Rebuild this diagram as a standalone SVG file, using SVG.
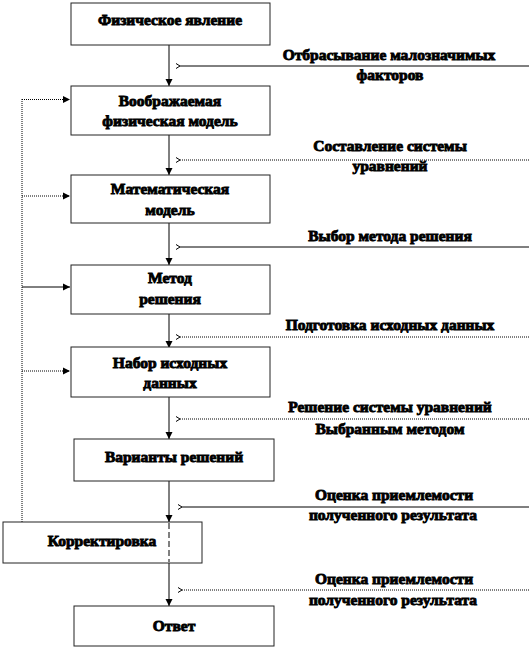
<svg xmlns="http://www.w3.org/2000/svg" width="529" height="651" viewBox="0 0 529 651">
<defs>
<style>
.box{fill:#fff;stroke:#222;stroke-width:1}
.t{font-family:"Liberation Serif","Times New Roman",serif;font-weight:bold;font-size:15.5px;fill:#000;stroke:#000;stroke-width:0.9;text-anchor:middle}
.ln{stroke:#000;stroke-width:1;fill:none}
.dot{stroke:#000;stroke-width:1;fill:none;stroke-dasharray:1 1}
.dash{stroke:#000;stroke-width:1;fill:none;stroke-dasharray:6 3}
</style>
<marker id="ah" markerWidth="8" markerHeight="8" refX="7" refY="4" orient="auto" markerUnits="userSpaceOnUse">
<path d="M0,0.5 L7,4 L0,7.5 Z" fill="#000"/>
</marker>
<marker id="oh" markerWidth="8" markerHeight="8" refX="1" refY="4" orient="auto" markerUnits="userSpaceOnUse">
<path d="M5,1.5 L1,4 L5,6.5" fill="none" stroke="#000" stroke-width="1"/>
</marker>
</defs>
<rect width="529" height="651" fill="#fff"/>
<g id="connectors">
<line class="ln" x1="169" y1="45" x2="169" y2="86" marker-end="url(#ah)"/>
<line class="ln" x1="169" y1="135" x2="169" y2="175" marker-end="url(#ah)"/>
<line class="ln" x1="169" y1="223" x2="169" y2="265" marker-end="url(#ah)"/>
<line class="ln" x1="169" y1="314" x2="169" y2="348" marker-end="url(#ah)"/>
<line class="ln" x1="169" y1="397" x2="169" y2="439" marker-end="url(#ah)"/>
<line class="ln" x1="169" y1="481" x2="169" y2="522" marker-end="url(#ah)"/>
<line class="ln" x1="169" y1="563" x2="169" y2="606" marker-end="url(#ah)"/>
<line class="ln" x1="529" y1="66" x2="180" y2="66" marker-end="url(#oh)"/>
<line class="dot" x1="529" y1="160" x2="180" y2="160" marker-end="url(#oh)"/>
<line class="ln" x1="529" y1="247" x2="180" y2="247" marker-end="url(#oh)"/>
<line class="dot" x1="529" y1="337" x2="180" y2="337" marker-end="url(#oh)"/>
<line class="dot" x1="529" y1="419" x2="180" y2="419" marker-end="url(#oh)"/>
<line class="ln" x1="529" y1="507" x2="182" y2="507" marker-end="url(#oh)"/>
<line class="dot" x1="529" y1="590" x2="182" y2="590" marker-end="url(#oh)"/>
<line class="dot" x1="22" y1="522" x2="22" y2="99"/>
<line class="dot" x1="22" y1="99.5" x2="70" y2="99.5" marker-end="url(#ah)"/>
<line class="dot" x1="22" y1="196" x2="70" y2="196" marker-end="url(#ah)"/>
<line class="ln" x1="22" y1="287" x2="70" y2="287" marker-end="url(#ah)"/>
<line class="dot" x1="22" y1="371" x2="70" y2="371" marker-end="url(#ah)"/>
</g>
<g id="n1"><rect class="box" x="71" y="3" width="199" height="42"/><text class="t" x="170" y="25">Физическое явление</text></g>
<g id="n2"><rect class="box" x="71" y="86" width="199" height="49"/><text class="t" x="170" y="106">Воображаемая</text><text class="t" x="170" y="126">физическая модель</text></g>
<g id="n3"><rect class="box" x="71" y="175" width="199" height="48"/><text class="t" x="170" y="194">Математическая</text><text class="t" x="170" y="215">модель</text></g>
<g id="n4"><rect class="box" x="71" y="265" width="199" height="49"/><text class="t" x="170" y="283">Метод</text><text class="t" x="170" y="304">решения</text></g>
<g id="n5"><rect class="box" x="71" y="347" width="199" height="50"/><text class="t" x="170" y="368">Набор исходных</text><text class="t" x="170" y="388">данных</text></g>
<g id="n6"><rect class="box" x="74" y="439" width="200" height="42"/><text class="t" x="174" y="462">Варианты решений</text></g>
<g id="n7"><rect class="box" x="3" y="522" width="199" height="41"/><text class="t" x="102" y="546">Корректировка</text><line class="dash" x1="169" y1="523" x2="169" y2="562"/></g>
<g id="n8"><rect class="box" x="74" y="606" width="200" height="40"/><text class="t" x="174" y="631">Ответ</text></g>
<g id="labels">
<text class="t" x="389" y="60">Отбрасывание малозначимых</text>
<text class="t" x="390" y="80">факторов</text>
<text class="t" x="390" y="151">Составление системы</text>
<text class="t" x="390" y="171">уравнений</text>
<text class="t" x="390" y="241">Выбор метода решения</text>
<text class="t" x="390" y="330">Подготовка исходных данных</text>
<text class="t" x="390" y="412">Решение системы уравнений</text>
<text class="t" x="390" y="434">Выбранным методом</text>
<text class="t" x="394" y="500">Оценка приемлемости</text>
<text class="t" x="393" y="520">полученного результата</text>
<text class="t" x="394" y="584">Оценка приемлемости</text>
<text class="t" x="393" y="605">полученного результата</text>
</g>
</svg>
